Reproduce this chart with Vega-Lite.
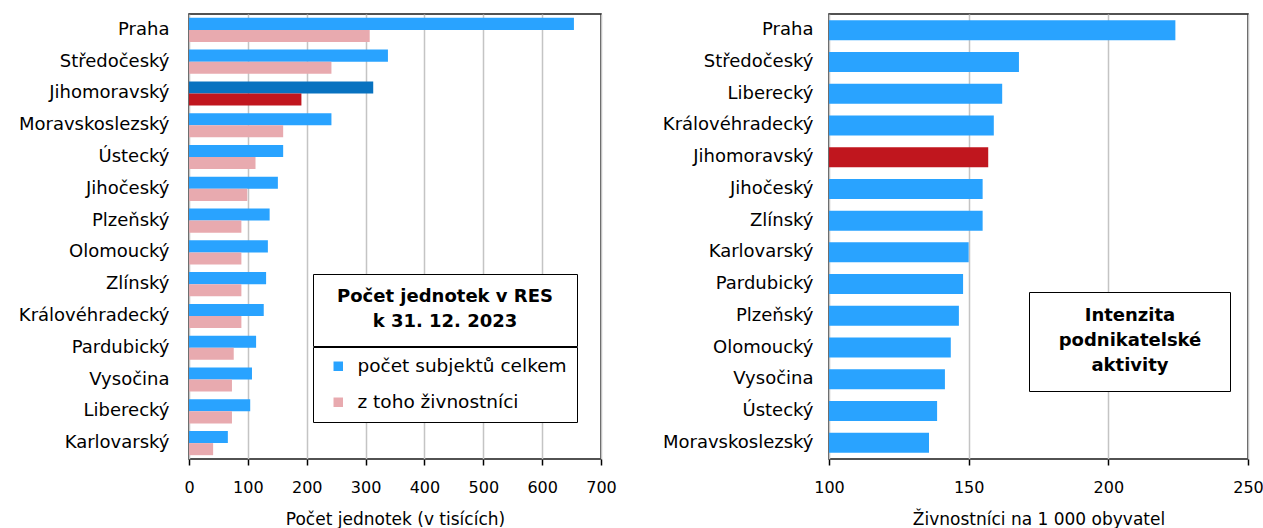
{
  "$schema": "https://vega.github.io/schema/vega-lite/v6.json",
  "padding": {"left": 17, "top": 13, "right": 0, "bottom": 0},
  "background": "white",
  "config": {
    "font": "DejaVu Sans",
    "view": {"stroke": "#1a1a1a", "strokeWidth": 1.5},
    "axis": {"labelFont": "DejaVu Sans", "labelColor": "#000", "titleFont": "DejaVu Sans", "titleFontWeight": "normal", "titleColor": "#000"},
    "concat": {"spacing": 43}
  },
  "datasets": {
    "pocty": [
      {"kraj": "Praha", "serie": "počet subjektů celkem", "registr": "RES", "hodnota": 654},
      {"kraj": "Praha", "serie": "z toho živnostníci", "registr": "RES", "hodnota": 307},
      {"kraj": "Středočeský", "serie": "počet subjektů celkem", "registr": "RES", "hodnota": 338},
      {"kraj": "Středočeský", "serie": "z toho živnostníci", "registr": "RES", "hodnota": 242},
      {"kraj": "Jihomoravský", "serie": "počet subjektů celkem", "registr": "RES", "hodnota": 313},
      {"kraj": "Jihomoravský", "serie": "z toho živnostníci", "registr": "RES", "hodnota": 191},
      {"kraj": "Moravskoslezský", "serie": "počet subjektů celkem", "registr": "RES", "hodnota": 242},
      {"kraj": "Moravskoslezský", "serie": "z toho živnostníci", "registr": "RES", "hodnota": 160},
      {"kraj": "Ústecký", "serie": "počet subjektů celkem", "registr": "RES", "hodnota": 160},
      {"kraj": "Ústecký", "serie": "z toho živnostníci", "registr": "RES", "hodnota": 113},
      {"kraj": "Jihočeský", "serie": "počet subjektů celkem", "registr": "RES", "hodnota": 151},
      {"kraj": "Jihočeský", "serie": "z toho živnostníci", "registr": "RES", "hodnota": 99},
      {"kraj": "Plzeňský", "serie": "počet subjektů celkem", "registr": "RES", "hodnota": 137},
      {"kraj": "Plzeňský", "serie": "z toho živnostníci", "registr": "RES", "hodnota": 89},
      {"kraj": "Olomoucký", "serie": "počet subjektů celkem", "registr": "RES", "hodnota": 134},
      {"kraj": "Olomoucký", "serie": "z toho živnostníci", "registr": "RES", "hodnota": 89},
      {"kraj": "Zlínský", "serie": "počet subjektů celkem", "registr": "RES", "hodnota": 131},
      {"kraj": "Zlínský", "serie": "z toho živnostníci", "registr": "RES", "hodnota": 89},
      {"kraj": "Královéhradecký", "serie": "počet subjektů celkem", "registr": "RES", "hodnota": 127},
      {"kraj": "Královéhradecký", "serie": "z toho živnostníci", "registr": "RES", "hodnota": 89},
      {"kraj": "Pardubický", "serie": "počet subjektů celkem", "registr": "RES", "hodnota": 114},
      {"kraj": "Pardubický", "serie": "z toho živnostníci", "registr": "RES", "hodnota": 76},
      {"kraj": "Vysočina", "serie": "počet subjektů celkem", "registr": "RES", "hodnota": 107},
      {"kraj": "Vysočina", "serie": "z toho živnostníci", "registr": "RES", "hodnota": 73},
      {"kraj": "Liberecký", "serie": "počet subjektů celkem", "registr": "RES", "hodnota": 104},
      {"kraj": "Liberecký", "serie": "z toho živnostníci", "registr": "RES", "hodnota": 73},
      {"kraj": "Karlovarský", "serie": "počet subjektů celkem", "registr": "RES", "hodnota": 66},
      {"kraj": "Karlovarský", "serie": "z toho živnostníci", "registr": "RES", "hodnota": 41}
    ],
    "intenzita": [
      {"kraj": "Praha", "ukazatel": "Intenzita", "hodnota": 224},
      {"kraj": "Středočeský", "ukazatel": "Intenzita", "hodnota": 168},
      {"kraj": "Liberecký", "ukazatel": "Intenzita", "hodnota": 162},
      {"kraj": "Královéhradecký", "ukazatel": "Intenzita", "hodnota": 159},
      {"kraj": "Jihomoravský", "ukazatel": "Intenzita", "hodnota": 157},
      {"kraj": "Jihočeský", "ukazatel": "Intenzita", "hodnota": 155},
      {"kraj": "Zlínský", "ukazatel": "Intenzita", "hodnota": 155},
      {"kraj": "Karlovarský", "ukazatel": "Intenzita", "hodnota": 150},
      {"kraj": "Pardubický", "ukazatel": "Intenzita", "hodnota": 148},
      {"kraj": "Plzeňský", "ukazatel": "Intenzita", "hodnota": 146.5},
      {"kraj": "Olomoucký", "ukazatel": "Intenzita", "hodnota": 143.6},
      {"kraj": "Vysočina", "ukazatel": "Intenzita", "hodnota": 141.5},
      {"kraj": "Ústecký", "ukazatel": "Intenzita", "hodnota": 138.7},
      {"kraj": "Moravskoslezský", "ukazatel": "Intenzita", "hodnota": 135.8}
    ]
  },
  "resolve": {
    "scale": {"color": "independent", "opacity": "independent"},
    "legend": {"color": "independent", "opacity": "independent"}
  },
  "hconcat": [
    {
      "width": 412,
      "height": 445,
      "data": {"name": "pocty"},
      "mark": {"type": "bar"},
      "encoding": {
        "y": {
          "field": "kraj", "type": "nominal",
          "sort": ["Praha", "Středočeský", "Jihomoravský", "Moravskoslezský", "Ústecký", "Jihočeský", "Plzeňský", "Olomoucký", "Zlínský", "Královéhradecký", "Pardubický", "Vysočina", "Liberecký", "Karlovarský"],
          "scale": {"paddingInner": 0.24, "paddingOuter": 0.12},
          "axis": {"title": null, "ticks": false, "domain": false, "labelFontSize": 18, "labelPadding": 20}
        },
        "yOffset": {
          "field": "serie", "type": "nominal",
          "sort": ["počet subjektů celkem", "z toho živnostníci"],
          "scale": {"paddingInner": 0, "paddingOuter": 0}
        },
        "x": {
          "field": "hodnota", "type": "quantitative",
          "scale": {"domain": [0, 700], "nice": false},
          "axis": {
            "title": "Počet jednotek (v tisících)", "values": [0, 100, 200, 300, 400, 500, 600, 700],
            "labelFontSize": 16, "titleFontSize": 17, "labelPadding": 14, "titlePadding": 16,
            "grid": true, "gridColor": "#c4c4c4", "gridWidth": 1.5,
            "ticks": true, "tickColor": "#000", "tickSize": 6, "tickWidth": 1.5,
            "domain": false, "labelFlush": false
          }
        },
        "color": {
          "field": "serie", "type": "nominal",
          "sort": ["počet subjektů celkem", "z toho živnostníci"],
          "scale": {"domain": ["počet subjektů celkem", "z toho živnostníci"], "range": ["#29A3FF", "#E8AAAF"]},
          "condition": [
            {"test": "datum.kraj === 'Jihomoravský' && datum.serie === 'počet subjektů celkem'", "value": "#0872C0"},
            {"test": "datum.kraj === 'Jihomoravský' && datum.serie === 'z toho živnostníci'", "value": "#C0161E"}
          ],
          "legend": {
            "title": null,
            "orient": "none", "legendX": 124, "legendY": 333,
            "labelFontSize": 18.5, "labelColor": "#000", "labelLimit": 400, "labelOffset": 10,
            "symbolType": "square", "symbolSize": 90, "symbolStrokeWidth": 0, "symbolOffset": 6,
            "rowPadding": 17,
            "strokeColor": "#000", "fillColor": "white", "padding": 10
          }
        },
        "opacity": {
          "field": "registr", "type": "ordinal",
          "scale": {"range": [1, 1]},
          "legend": {
            "title": ["Počet jednotek v RES", "k 31. 12. 2023"],
            "orient": "none", "legendX": 124, "legendY": 260,
            "titleFontSize": 18, "titleFontWeight": "bold", "titleColor": "#000", "titleAlign": "center", "titleAnchor": "middle",
            "titleLineHeight": 25, "titlePadding": 0, "titleLimit": 400,
            "labelExpr": "''", "labelFontSize": 1, "symbolSize": 0, "symbolStrokeWidth": 0, "symbolOpacity": 0, "symbolOffset": 231,
            "strokeColor": "#000", "fillColor": "white", "padding": 14
          }
        }
      }
    },
    {
      "width": 419,
      "height": 445,
      "data": {"name": "intenzita"},
      "mark": {"type": "bar"},
      "encoding": {
        "y": {
          "field": "kraj", "type": "nominal",
          "sort": ["Praha", "Středočeský", "Liberecký", "Královéhradecký", "Jihomoravský", "Jihočeský", "Zlínský", "Karlovarský", "Pardubický", "Plzeňský", "Olomoucký", "Vysočina", "Ústecký", "Moravskoslezský"],
          "scale": {"paddingInner": 0.37, "paddingOuter": 0.2},
          "axis": {"title": null, "ticks": false, "domain": false, "labelFontSize": 18, "labelPadding": 16}
        },
        "x": {
          "field": "hodnota", "type": "quantitative",
          "scale": {"domain": [100, 250], "nice": false, "zero": false},
          "axis": {
            "title": "Živnostníci na 1 000 obyvatel", "values": [100, 150, 200, 250],
            "labelFontSize": 16, "titleFontSize": 17, "labelPadding": 14, "titlePadding": 16,
            "grid": true, "gridColor": "#c4c4c4", "gridWidth": 1.5,
            "ticks": true, "tickColor": "#000", "tickSize": 6, "tickWidth": 1.5,
            "domain": false, "labelFlush": false
          }
        },
        "x2": {"datum": 100},
        "color": {
          "field": "ukazatel", "type": "nominal",
          "scale": {"range": ["#29A3FF"]},
          "condition": {"test": "datum.kraj === 'Jihomoravský'", "value": "#C0161E"},
          "legend": {
            "title": ["Intenzita", "podnikatelské", "aktivity"],
            "orient": "none", "legendX": 200, "legendY": 278,
            "titleFontSize": 18, "titleFontWeight": "bold", "titleColor": "#000", "titleAlign": "center", "titleAnchor": "middle",
            "titleLineHeight": 25, "titlePadding": 0, "titleLimit": 400,
            "labelExpr": "''", "labelFontSize": 1, "symbolSize": 0, "symbolStrokeWidth": 0, "symbolOpacity": 0, "symbolOffset": 166,
            "strokeColor": "#000", "fillColor": "white", "padding": 15
          }
        }
      }
    }
  ]
}
